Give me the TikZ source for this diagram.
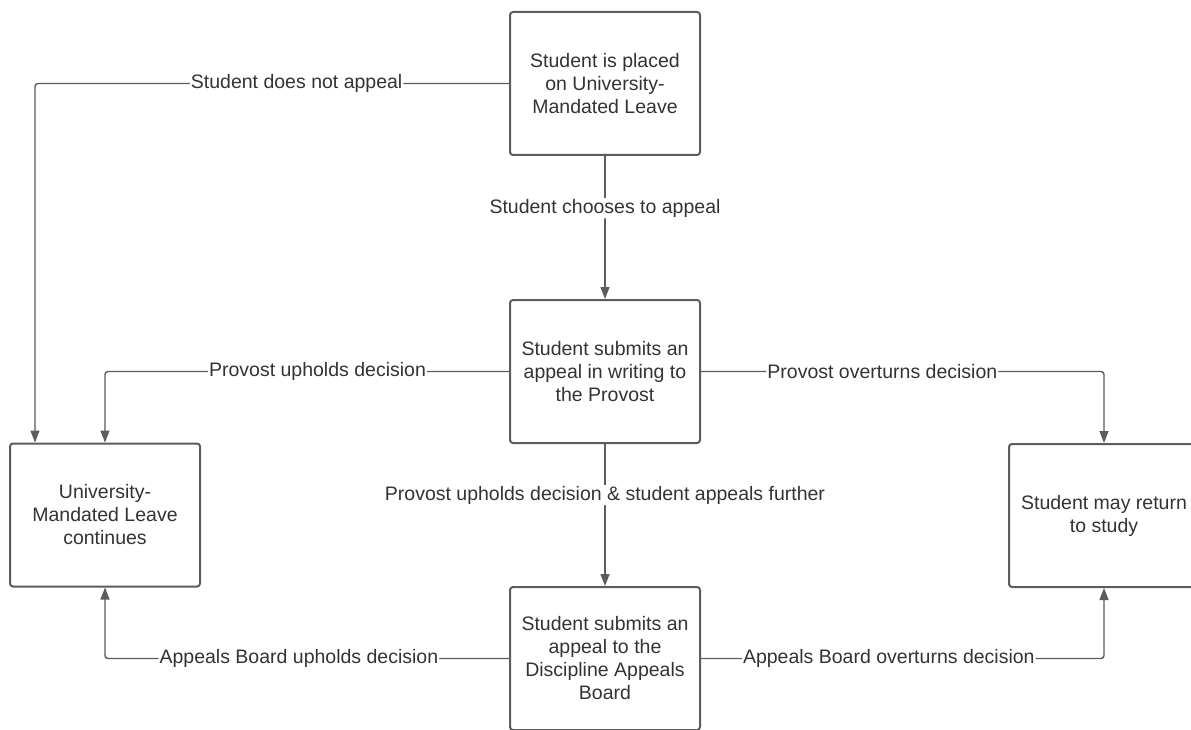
\documentclass[tikz,border=0pt]{standalone}
\usepackage{fontspec}
\setmainfont{Liberation Sans}
\usetikzlibrary{arrows.meta}
\definecolor{linegray}{HTML}{5C5C5C}
\definecolor{textgray}{HTML}{333333}
\tikzset{
  flowbox/.style={draw=linegray, line width=2pt, rounded corners=3pt, fill=white,
    minimum width=190pt, minimum height=143pt, align=center, text=textgray,
    font=\fontsize{19.5}{23}\selectfont, inner sep=0pt},
  conn/.style={draw=linegray, line width=1.4pt, rounded corners=3pt,
    -{Triangle[length=12pt,width=9pt]}},
  lbl/.style={fill=white, text=textgray, font=\fontsize{19.5}{23}\selectfont, inner sep=1pt}
}
\begin{document}
\begin{tikzpicture}[x=1pt,y=-1pt]
\useasboundingbox (0,0) rectangle (1191,730);
\clip (0,0) rectangle (1191,730);
\fill[white] (0,0) rectangle (1191,730);
\node[flowbox] (top) at (605,83.5) {Student is placed\\on University-\\Mandated Leave};
\node[flowbox] (mid) at (605,371.5) {Student submits an\\appeal in writing to\\the Provost};
\node[flowbox] (bot) at (605,658.5) {Student submits an\\appeal to the\\Discipline Appeals\\Board};
\node[flowbox] (left) at (105,515) {University-\\Mandated Leave\\continues};
\node[flowbox] (right) at (1104,515.5) {Student may return\\to study};
\coordinate (leftin) at ([xshift=-70pt]left.north);
\draw[conn] (top.west) -| node[lbl, pos=0.224] (l1) {Student does not appeal} (leftin);
\draw[conn] (top.south) -- node[lbl, pos=0.366] (l2) {Student chooses to appeal} (mid.north);
\draw[conn] (mid.west) -| node[lbl, pos=0.237] (l3) {Provost upholds decision} (left.north);
\draw[conn] (mid.east) -| node[lbl, pos=0.225] (l4) {Provost overturns decision} (right.north);
\draw[conn] (mid.south) -- node[lbl, pos=0.36] (l5) {Provost upholds decision \& student appeals further} (bot.north);
\draw[conn] (bot.west) -| node[lbl, pos=0.26] (l6) {Appeals Board upholds decision} (left.south);
\draw[conn] (bot.east) -| node[lbl, pos=0.233] (l7) {Appeals Board overturns decision} (right.south);
\end{tikzpicture}
\end{document}
